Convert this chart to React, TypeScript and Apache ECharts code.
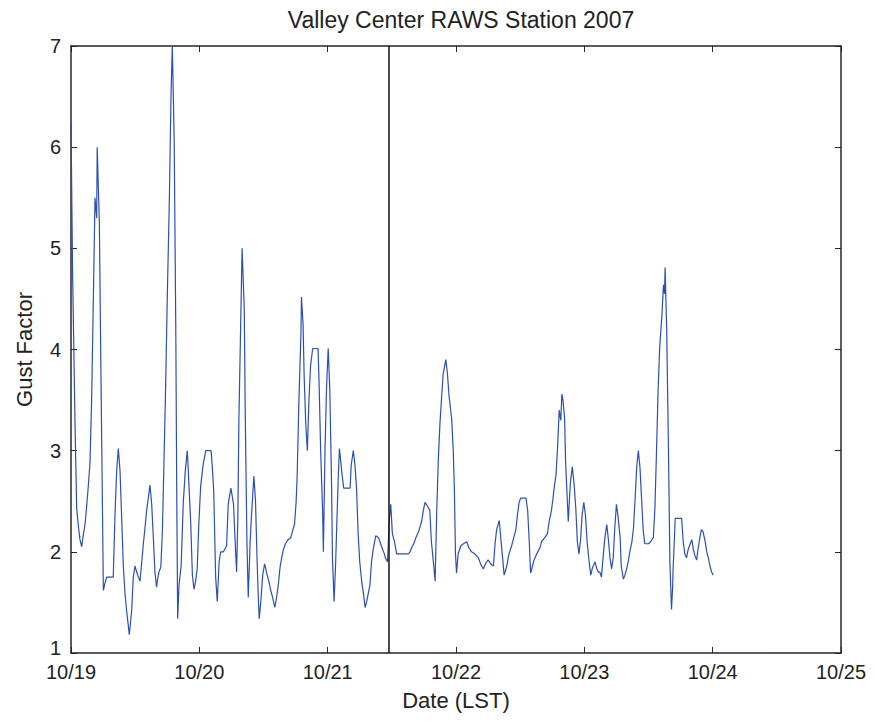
import React, { useEffect, useRef } from "react";
import * as echarts from "echarts";

const titleText = "Valley Center RAWS Station 2007";
const xAxisName = "Date (LST)";
const yAxisName = "Gust Factor";
const xTickLabels = ["10/19", "10/20", "10/21", "10/22", "10/23", "10/24", "10/25"];
const markerHour = 59.5;

// hours since 10/19 00:00 LST
const hours = [
  0, 0.3, 0.75, 1.06, 1.37, 1.68, 2.0, 2.31, 2.62, 2.93, 3.25, 3.55, 3.86, 4.18, 4.49, 4.8, 4.9, 5.3, 5.6, 5.92,
  6.05, 6.36, 6.67, 7.9, 8.23, 8.54, 8.85, 9.17, 9.48, 9.79, 10.1, 10.4, 10.9, 11.35, 11.65, 11.97, 12.28, 12.6, 12.9, 13.2,
  13.5, 13.84, 14.15, 14.46, 14.77, 15.09, 15.4, 15.7, 16.0, 16.2, 16.45, 16.8, 17.1, 17.4, 17.7, 18.0, 18.4, 18.7, 18.95, 19.3,
  19.6, 19.8, 19.95, 20.2, 20.6, 21.0, 21.4, 21.75, 21.94, 22.4, 22.7, 23.0, 23.3, 23.6, 23.9, 24.25, 24.7, 25.2, 26.2, 26.4,
  26.7, 27.05, 27.35, 27.7, 28.0, 28.5, 29.1, 29.4, 29.9, 30.4, 30.7, 30.97, 31.2, 31.4, 31.8, 32.0, 32.4, 32.6, 32.9, 33.15,
  33.5, 33.8, 34.2, 34.5, 34.8, 35.0, 35.2, 35.5, 35.85, 36.2, 36.6, 37.0, 37.3, 37.7, 38.1, 38.45, 38.8, 39.1, 39.4, 39.7,
  40.1, 40.6, 41.1, 41.4, 41.8, 42.1, 42.3, 42.6, 43.0, 43.1, 43.4, 43.6, 43.9, 44.2, 44.5, 44.8, 45.2, 46.2, 46.4, 46.7,
  47.05, 47.2, 47.5, 47.8, 48.1, 48.4, 48.7, 48.9, 49.2, 49.5, 49.7, 50.0, 50.2, 50.4, 50.7, 51.0, 52.2, 52.4, 52.8, 53.1,
  53.4, 53.7, 54.0, 54.4, 54.7, 55.0, 55.3, 55.6, 55.9, 56.2, 56.5, 57.0, 57.5, 57.9, 58.3, 58.6, 58.8, 59.2, 59.5, 59.8,
  60.1, 60.5, 60.9, 63.1, 63.4, 63.7, 64.1, 64.5, 65.0, 65.3, 65.6, 65.9, 66.2, 66.7, 67.1, 67.4, 67.7, 68.1, 68.4, 68.7,
  69.0, 69.3, 69.6, 70.1, 70.4, 70.7, 71.2, 71.5, 71.7, 71.9, 72.1, 72.4, 72.9, 73.4, 74.0, 74.4, 74.9, 75.5, 76.2, 76.6,
  77.1, 77.5, 78.0, 78.5, 79.0, 79.3, 79.6, 80.1, 80.3, 80.65, 81.0, 81.5, 81.9, 82.4, 82.8, 83.2, 83.5, 83.8, 84.1, 85.1,
  85.4, 85.7, 85.95, 86.3, 86.6, 87.1, 87.7, 88.0, 88.6, 89.1, 89.45, 89.8, 90.1, 90.4, 90.7, 91.0, 91.3, 91.6, 91.8, 92.0,
  92.3, 92.5, 92.8, 93.0, 93.2, 93.4, 93.75, 94.1, 94.4, 94.7, 95.0, 95.3, 95.6, 95.9, 96.2, 96.55, 96.9, 97.2, 97.5, 98.0,
  98.3, 98.6, 98.9, 99.2, 99.5, 99.85, 100.2, 100.5, 100.8, 101.1, 101.4, 101.7, 102.0, 102.3, 102.7, 102.9, 103.3, 103.6, 103.9, 104.2,
  104.5, 104.9, 105.2, 105.5, 105.8, 106.1, 106.4, 106.7, 107.0, 107.3, 108.0, 108.4, 108.9, 109.2, 109.5, 109.8, 110.1, 110.5, 110.8, 111.0,
  111.1, 111.4, 111.7, 112.0, 112.3, 112.5, 112.6, 113.0, 114.2, 114.5, 114.8, 115.1, 115.4, 115.8, 116.1, 116.4, 116.7, 117.0, 117.3, 117.6,
  117.9, 118.2, 118.6, 118.9, 119.2, 119.5, 119.8, 120.1,
];

const gustFactor = [
  6.25, 4.75, 3.27, 2.43, 2.26, 2.12, 2.05, 2.17, 2.27, 2.45, 2.66, 2.88, 3.5, 4.5, 5.5, 5.3, 6.0, 5.26, 3.76, 2.26,
  1.62, 1.69, 1.75, 1.75, 2.37, 2.8, 3.02, 2.8, 2.33, 1.85, 1.59, 1.42, 1.18, 1.42, 1.75, 1.86, 1.8, 1.75, 1.71, 1.88,
  2.06, 2.24, 2.41, 2.53, 2.66, 2.47, 2.14, 1.8, 1.65, 1.73, 1.8, 1.85, 2.22, 2.92, 3.64, 4.5, 5.5, 6.5, 7.0, 6.06,
  4.17, 2.39, 1.34, 1.67, 1.86, 2.49, 2.82, 3.0, 2.8, 2.27, 1.77, 1.63, 1.71, 1.83, 2.27, 2.65, 2.86, 3.0, 3.0, 2.86,
  2.59, 1.75, 1.51, 1.9, 2.0, 2.0, 2.06, 2.47, 2.63, 2.47, 2.1, 1.8, 2.33, 3.31, 4.44, 5.0, 4.4, 3.31, 2.1, 1.55,
  2.1, 2.4, 2.75, 2.51, 1.92, 1.59, 1.34, 1.51, 1.77, 1.88, 1.79, 1.71, 1.63, 1.55, 1.45, 1.55, 1.69, 1.85, 1.94, 2.02,
  2.08, 2.12, 2.14, 2.2, 2.27, 2.49, 2.76, 3.45, 4.15, 4.52, 4.25, 3.74, 3.27, 3.0, 3.5, 3.84, 4.01, 4.01, 3.66, 2.98,
  2.41, 2.0, 3.0, 3.64, 4.01, 3.6, 2.76, 1.94, 1.51, 1.9, 2.26, 2.76, 3.02, 2.92, 2.76, 2.63, 2.63, 2.86, 3.0, 2.86,
  2.63, 2.18, 1.9, 1.69, 1.59, 1.45, 1.51, 1.59, 1.67, 1.9, 2.02, 2.16, 2.14, 2.08, 2.02, 1.98, 1.94, 1.9, 2.3, 2.47,
  2.18, 2.1, 1.98, 1.98, 2.0, 2.04, 2.08, 2.14, 2.2, 2.25, 2.31, 2.41, 2.49, 2.45, 2.41, 2.1, 1.94, 1.71, 2.41, 2.92,
  3.27, 3.52, 3.76, 3.9, 3.76, 3.54, 3.31, 2.98, 2.61, 1.98, 1.79, 1.98, 2.06, 2.08, 2.1, 2.04, 2.0, 1.98, 1.94, 1.88,
  1.83, 1.88, 1.92, 1.88, 1.86, 2.08, 2.22, 2.31, 2.18, 1.98, 1.77, 1.86, 1.98, 2.06, 2.14, 2.22, 2.37, 2.49, 2.53, 2.53,
  2.41, 2.1, 1.79, 1.86, 1.92, 1.98, 2.04, 2.1, 2.14, 2.18, 2.31, 2.39, 2.51, 2.65, 2.76, 3.04, 3.4, 3.3, 3.56, 3.5,
  3.33, 2.88, 2.53, 2.3, 2.51, 2.69, 2.84, 2.66, 2.43, 2.1, 1.98, 2.12, 2.37, 2.49, 2.37, 2.08, 1.9, 1.77, 1.84, 1.9,
  1.84, 1.8, 1.8, 1.75, 1.94, 2.14, 2.27, 2.12, 1.94, 1.83, 1.94, 2.24, 2.47, 2.35, 2.14, 1.86, 1.73, 1.77, 1.83, 1.9,
  2.0, 2.1, 2.24, 2.53, 2.84, 3.0, 2.84, 2.53, 2.22, 2.08, 2.08, 2.1, 2.14, 2.43, 3.0, 3.6, 4.03, 4.33, 4.64, 4.55,
  4.81, 4.21, 3.15, 1.9, 1.43, 1.63, 1.83, 2.33, 2.33, 2.1, 1.98, 1.94, 2.02, 2.08, 2.12, 2.02, 1.96, 1.92, 2.04, 2.14,
  2.22, 2.2, 2.1, 2.0, 1.94, 1.86, 1.8, 1.77,
];

const FONT = "'Liberation Sans', Arial, Helvetica, sans-serif";
const TEXT = "#222";
const AXIS = "#262626";

export default function App() {
  const ref = useRef<HTMLDivElement>(null);
  useEffect(() => {
    if (!ref.current) return;
    const chart = echarts.init(ref.current, undefined, { renderer: "svg" });
    const data = hours.map((h, i) => [h, gustFactor[i]]);
    const axisLine = { show: true, onZero: false, lineStyle: { color: AXIS, width: 1.5 } };
    const axisTick = { show: true, inside: true, length: 6, lineStyle: { color: AXIS, width: 1 } };
    chart.setOption({
      animation: false,
      backgroundColor: "#fff",
      textStyle: { fontFamily: FONT },
      title: {
        text: titleText,
        left: 456,
        top: 3,
        textAlign: "center",
        textStyle: { fontFamily: FONT, fontSize: 23, fontWeight: "normal", color: TEXT },
      },
      grid: { left: 71, top: 46, width: 770, height: 607, containLabel: false },
      xAxis: [
        {
          type: "value",
          min: 0,
          max: 144,
          interval: 24,
          position: "bottom",
          name: xAxisName,
          nameLocation: "middle",
          nameGap: 36,
          nameTextStyle: { fontFamily: FONT, fontSize: 22, color: TEXT },
          axisLine,
          axisTick,
          splitLine: { show: false },
          axisLabel: {
            fontFamily: FONT,
            fontSize: 20,
            color: TEXT,
            margin: 9,
            formatter: (v: number) => xTickLabels[Math.round(v / 24)] ?? "",
          },
        },
        {
          type: "value",
          min: 0,
          max: 144,
          interval: 24,
          position: "top",
          axisLine,
          axisTick,
          splitLine: { show: false },
          axisLabel: { show: false },
        },
      ],
      yAxis: [
        {
          type: "value",
          min: 1,
          max: 7,
          interval: 1,
          position: "left",
          name: yAxisName,
          nameLocation: "middle",
          nameGap: 36,
          nameRotate: 90,
          nameTextStyle: { fontFamily: FONT, fontSize: 22, color: TEXT },
          axisLine,
          axisTick,
          splitLine: { show: false },
          axisLabel: {
            fontFamily: FONT,
            fontSize: 20,
            color: TEXT,
            margin: 10,
            formatter: (v: number) => (v === 1 ? "{low|1}" : String(v)),
            rich: {
              low: { fontFamily: FONT, fontSize: 20, color: TEXT, padding: [0, 0, 10, 0] },
            },
          },
        },
        {
          type: "value",
          min: 1,
          max: 7,
          interval: 1,
          position: "right",
          axisLine,
          axisTick,
          splitLine: { show: false },
          axisLabel: { show: false },
        },
      ],
      series: [
        {
          type: "line",
          xAxisIndex: 0,
          yAxisIndex: 0,
          data,
          showSymbol: false,
          symbol: "none",
          lineStyle: { color: "#2c4fb3", width: 1.2 },
          markLine: {
            silent: true,
            symbol: ["none", "none"],
            label: { show: false },
            lineStyle: { color: "#111", width: 1.5, type: "solid" },
            data: [{ xAxis: markerHour }],
          },
        },
      ],
    });
    return () => chart.dispose();
  }, []);
  return (
    <div
      ref={ref}
      style={{ position: "fixed", left: 0, top: 0, width: 875, height: 721, background: "#fff" }}
    />
  );
}
